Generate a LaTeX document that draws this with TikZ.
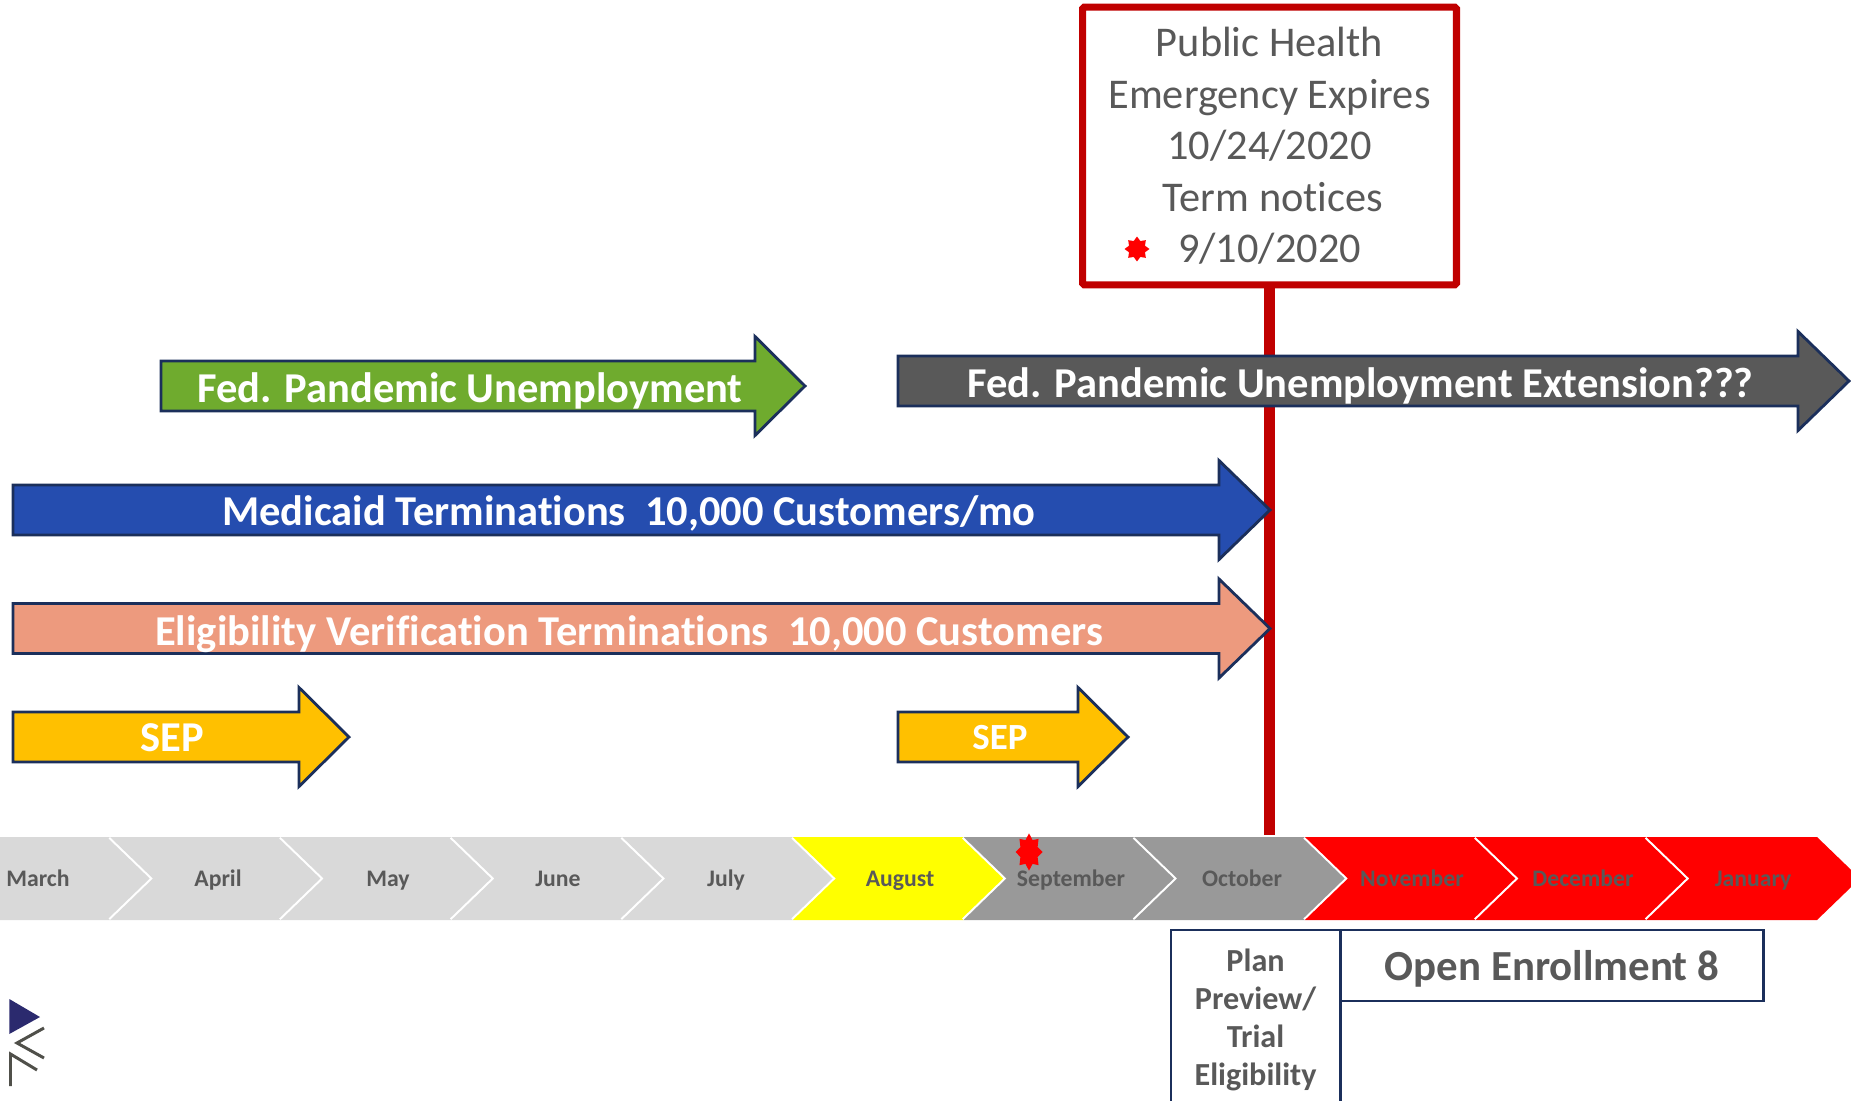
\documentclass[tikz,border=0pt]{standalone}
\usepackage{fontspec}
\setmainfont[Ligatures=NoCommon]{Carlito}
\usetikzlibrary{shapes.geometric,positioning}
\definecolor{navyedge}{HTML}{1B2F5B}
\definecolor{textgray}{HTML}{595959}
\definecolor{redline}{HTML}{C00000}
\definecolor{fpugreen}{HTML}{6FAB2E}
\definecolor{fpugray}{HTML}{595959}
\definecolor{medblue}{HTML}{254DAF}
\definecolor{eligsalmon}{HTML}{ED9A7E}
\definecolor{sepgold}{HTML}{FFC000}
\definecolor{monthlight}{HTML}{D9D9D9}
\definecolor{monthgray}{HTML}{999999}
\definecolor{monthyellow}{HTML}{FFFF00}
\definecolor{monthred}{HTML}{FF0000}
\definecolor{logonavy}{HTML}{2B2A6E}
\definecolor{logogray}{HTML}{50504A}
\tikzset{
	blockarrow/.style={draw=navyedge,line width=1.6pt,miter limit=10},
	arrowtext/.style={text=white,anchor=base,inner sep=0,font=\bfseries\fontsize{24.2}{28}\selectfont},
	monthtext/.style={text=textgray,anchor=base,inner sep=0,font=\bfseries\fontsize{13.5}{16}\selectfont},
	chevron/.style={draw=white,line width=2.4pt,miter limit=10,line cap=square},
	redstar/.style={star,star points=8,star point ratio=1.45,fill=monthred,inner sep=0},
	phebox/.style={draw=redline,line width=4pt,rounded corners=1pt,fill=white,align=center,inner sep=0,text=textgray,
		font=\fontsize{24.1}{29.3}\selectfont},
	enrollbox/.style={draw=navyedge,line width=1.2pt,inner sep=0,text=textgray,align=center}
}
% one block arrow: left, head base, tip, middle y, colour
\newcommand{\blockarr}[5]{%
	\draw[blockarrow,fill=#5] (#1,#4-25) -- (#2,#4-25) -- (#2,#4-49.5) -- (#3,#4)
		-- (#2,#4+49.5) -- (#2,#4+25) -- (#1,#4+25) -- cycle;}
% one month: right top corner x, colour
\newcommand{\monthshape}[2]{%
	\fill[#2] (#1-170.7,837) -- (#1,837) -- (#1+43,878.5) -- (#1,920) -- (#1-170.7,920) -- (#1-127.7,878.5) -- cycle;
	\draw[chevron] (#1,837) -- (#1+43,878.5) -- (#1,920);}

\begin{document}
\begin{tikzpicture}[x=0.02cm,y=-0.02cm]
	\clip (0,0) rectangle (1851,1101);
	
	%%%% expiry box and its line
	\node[phebox,minimum width=7.48cm,minimum height=5.56cm] (phe) at (1269.5,146) {Public Health\\Emergency Expires\\10/24/2020\\\hspace*{0.14cm}Term notices\\9/10/2020};
	\node[redstar,minimum size=.5cm] (boxstar) at (1137,249) {};
	\coordinate (lineend) at (1269.5,835);
	\draw[redline,line width=6.2pt] (phe.south) -- (lineend);
	
	%%%% arrows
	\blockarr{161}{755}{805}{386}{fpugreen}
	\node[arrowtext] (fpu) at (470,402) {Fed. Pandemic Unemployment};
	\blockarr{898}{1798}{1849}{381}{fpugray}
	\node[arrowtext] (fpuext) at (1360.5,397) {Fed. Pandemic Unemployment Extension???};
	\blockarr{13}{1219}{1270}{510}{medblue}
	\node[arrowtext] (medicaid) at (629,525) {Medicaid Terminations\ \ 10,000 Customers/mo};
	\blockarr{13}{1219}{1270}{628.5}{eligsalmon}
	\node[arrowtext] (elig) at (629,645) {Eligibility Verification Terminations\ \ 10,000 Customers};
	\blockarr{13}{299}{349}{737}{sepgold}
	\node[arrowtext] (sepa) at (172,751) {SEP};
	\blockarr{898}{1078}{1128}{737}{sepgold}
	\node[arrowtext,font=\bfseries\fontsize{21}{25}\selectfont] (sepb) at (1000,749.5) {SEP};
	
	%%%% months
	\monthshape{110}{monthlight}
	\monthshape{280.7}{monthlight}
	\monthshape{451.4}{monthlight}
	\monthshape{622.1}{monthlight}
	\monthshape{792.8}{monthlight}
	\monthshape{963.5}{monthyellow}
	\monthshape{1134.2}{monthgray}
	\monthshape{1304.9}{monthgray}
	\monthshape{1475.6}{monthred}
	\monthshape{1646.3}{monthred}
	\fill[monthred] (1646.3,837) -- (1817,837) -- (1860,878.5) -- (1817,920) -- (1646.3,920) -- (1689.3,878.5) -- cycle;
	\node[monthtext] (march) at (38,886) {March};
	\node[monthtext] (april) at (218,886) {April};
	\node[monthtext] (may) at (388,886) {May};
	\node[monthtext] (june) at (558,886) {June};
	\node[monthtext] (july) at (726,886) {July};
	\node[monthtext] (august) at (900,886) {August};
	\node[monthtext] (september) at (1071,886) {September};
	\node[monthtext] (october) at (1242,886) {October};
	\node[monthtext] (november) at (1412,886) {November};
	\node[monthtext] (december) at (1583,886) {December};
	\node[monthtext] (january) at (1753,886) {January};
	\node[redstar,minimum size=.54cm,transform shape,yscale=1.38] (septstar) at (1029,852) {};
	
	%%%% boxes under october
	\node[enrollbox,minimum width=3.4cm,minimum height=3.6cm,font=\bfseries\fontsize{18.3}{21.6}\selectfont,anchor=north west] (plan) at (1169.5,929) {Plan\\Preview/\\Trial\\Eligibility};
	\node[enrollbox,minimum width=8.46cm,minimum height=1.42cm,text height=.58cm,text depth=0pt,font=\bfseries\fontsize{24.4}{28}\selectfont,anchor=north west] (open) at (1339.5,929) {Open Enrollment 8};
	
	%%%% logo
	\fill[logonavy] (9.3,999) -- (40,1017) -- (9.3,1034) -- cycle;
	\draw[logogray,line width=1.7pt] (44,1028) -- (17,1043) -- (44,1058);
	\draw[logogray,line width=1.7pt] (10.5,1086) -- (10.5,1054) -- (37,1070);
\end{tikzpicture}
\end{document}
